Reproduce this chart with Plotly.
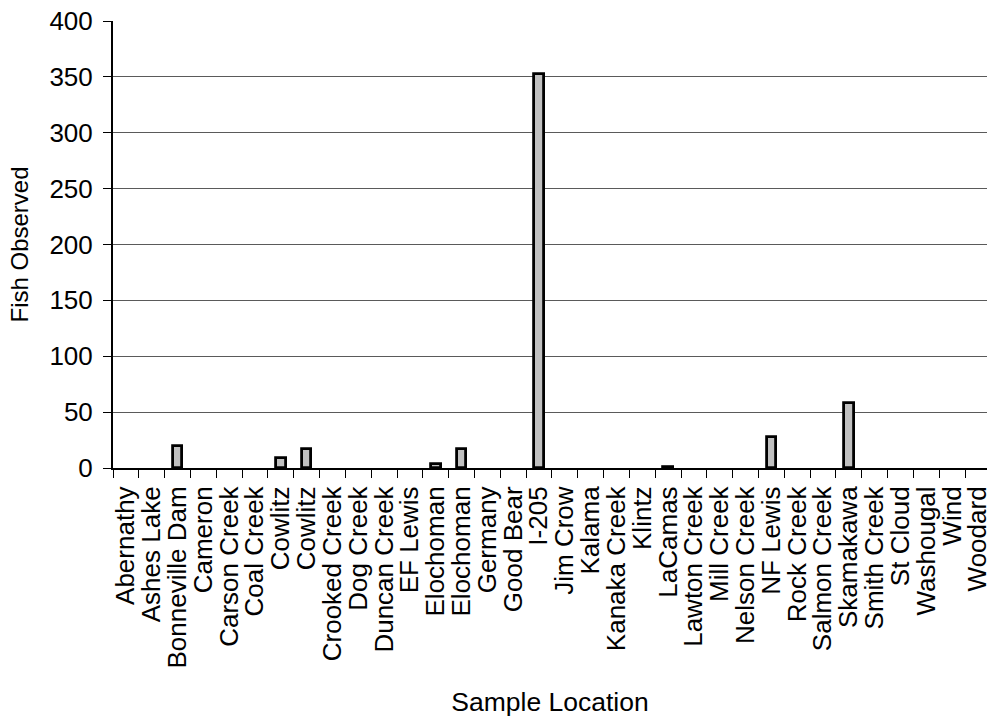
import plotly.graph_objects as go

locations = ["Abernathy", "Ashes Lake", "Bonneville Dam", "Cameron", "Carson Creek",
             "Coal Creek", "Cowlitz", "Cowlitz", "Crooked Creek", "Dog Creek",
             "Duncan Creek", "EF Lewis", "Elochoman", "Elochoman", "Germany",
             "Good Bear", "I-205", "Jim Crow", "Kalama", "Kanaka Creek", "Klintz",
             "LaCamas", "Lawton Creek", "Mill Creek", "Nelson Creek", "NF Lewis",
             "Rock Creek", "Salmon Creek", "Skamakawa", "Smith Creek", "St Cloud",
             "Washougal", "Wind", "Woodard"]
fish_observed = [0, 0, 20, 0, 0, 0, 9, 17, 0, 0, 0, 0, 4, 17, 0, 0, 353, 0, 0, 0, 0,
                 1, 0, 0, 0, 28, 0, 0, 58, 0, 0, 0, 0, 0]
y_ticks = [0, 50, 100, 150, 200, 250, 300, 350, 400]

idx = list(range(len(locations)))
# zero counts draw no visible bar in the original chart
bar_values = [v if v else None for v in fish_observed]
FONT = "Liberation Sans, Arial, sans-serif"

fig = go.Figure()
fig.add_trace(go.Bar(
    x=idx, y=bar_values, width=0.37,
    marker=dict(color="#C0C0C0", line=dict(color="black", width=2.8)),
))

fig.update_layout(
    width=992, height=717,
    margin=dict(l=113, r=0, t=21, b=249),
    paper_bgcolor="white", plot_bgcolor="white",
    font=dict(family=FONT, size=26, color="black"),
    showlegend=False,
    bargap=0,
)
fig.update_xaxes(
    type="linear", range=[-0.5, 33.35],
    tickmode="array", tickvals=idx, ticktext=locations, tickangle=-90,
    ticklabeloverflow="allow",
    ticks="outside", ticklen=6, tickcolor="rgba(0,0,0,0)",
    minor=dict(ticks="outside", tickmode="linear", tick0=-0.5, dtick=1,
               ticklen=8, tickcolor="black", tickwidth=1, showgrid=False),
    showline=True, linecolor="black", linewidth=2,
    showgrid=False, zeroline=False,
    title=dict(text="Sample Location", font=dict(size=26.5), standoff=30),
)
fig.update_yaxes(
    range=[0, 400], tickmode="array", tickvals=y_ticks,
    ticks="outside", ticklen=8, tickcolor="black", tickwidth=1,
    ticklabelstandoff=5,
    showline=True, linecolor="black", linewidth=2,
    showgrid=True, gridcolor="#5a5a5a", gridwidth=1, zeroline=False,
    title=dict(text="Fish Observed", font=dict(size=24), standoff=14),
)

fig.write_html("out.html", post_script="document.body.style.margin='0';",
               config={"displayModeBar": False})
